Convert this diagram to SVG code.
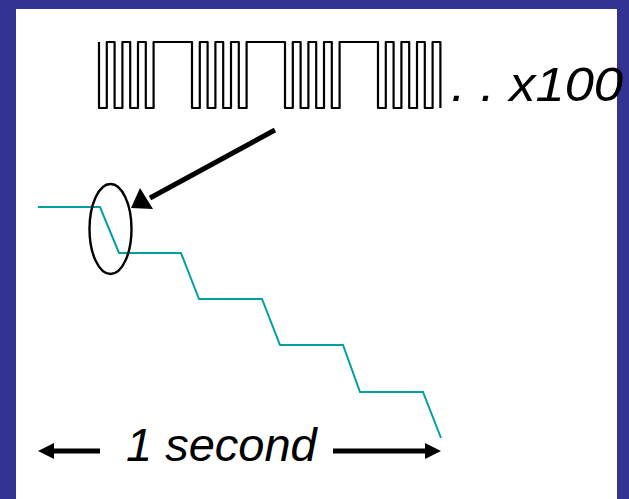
<svg xmlns="http://www.w3.org/2000/svg" width="629" height="499" viewBox="0 0 629 499">
  <style>
    .lbl { font-family: "Liberation Sans", Arial, sans-serif; font-style: italic; fill: #000; }
    .wave { fill: none; stroke: #000; stroke-width: 2.2; stroke-linejoin: round; }
    .stair { fill: none; stroke: #00A0A0; stroke-width: 2; }
    .arr { stroke: #000; stroke-width: 5; fill: none; }
    .head { fill: #000; stroke: none; }
  </style>
  <rect x="0" y="0" width="629" height="499" fill="#323392"/>
  <rect x="16" y="9" width="601" height="490" fill="#ffffff"/>

  <g id="pulse-train">
    <path class="wave" d="M99,42 V108 H106.8 V42 H114.6 V108 H122.4 V42 H130.2 V108 H138 V42 H145.8 V108 H153.6 V42
      H192 V108 H199.8 V42 H207.6 V108 H215.4 V42 H223.2 V108 H231 V42 H238.8 V108 H246.6 V42
      H285 V108 H292.8 V42 H300.6 V108 H308.4 V42 H316.2 V108 H324 V42 H331.8 V108 H339.6 V42
      H378 V108 H385.8 V42 H393.6 V108 H401.4 V42 H409.2 V108 H417 V42 H424.8 V108 H432.6 V42 H440.4 V108"/>
    <text class="lbl" x="451" y="101" font-size="48" textLength="172" lengthAdjust="spacingAndGlyphs">. . x100</text>
  </g>

  <g id="staircase">
    <path class="stair" d="M38,207 H100 L119,253 H181 L199,299 H262 L280,345 H343 L360,392 H423 L441,438"/>
  </g>

  <g id="zoom-ellipse">
    <ellipse cx="110.5" cy="229" rx="21" ry="45" fill="none" stroke="#000" stroke-width="2.4"/>
  </g>

  <g id="connectors">
    <line class="arr" x1="275" y1="130" x2="150" y2="198"/>
    <polygon class="head" points="131,208 140,188 153,209"/>
    <line class="arr" x1="100" y1="451" x2="50" y2="451"/>
    <polygon class="head" points="38,451 54,443 54,459"/>
    <line class="arr" x1="333" y1="451" x2="428" y2="451"/>
    <polygon class="head" points="441,451 425,443 425,459"/>
  </g>

  <g id="duration-label">
    <text class="lbl" x="126" y="461" font-size="47">1 second</text>
  </g>
</svg>
